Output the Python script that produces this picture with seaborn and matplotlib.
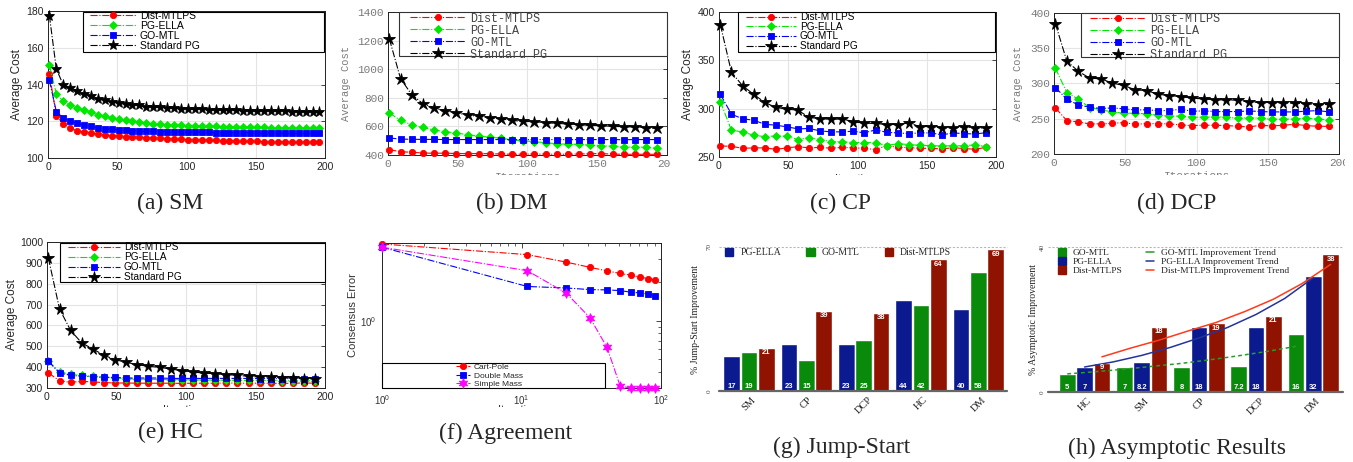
import numpy as np
import pandas as pd
import matplotlib
matplotlib.use('Agg')
import matplotlib.pyplot as plt
import seaborn as sns
from matplotlib.patches import Rectangle, Patch
from matplotlib.lines import Line2D
from matplotlib.ticker import NullFormatter

# ---------------- data ----------------
methods = ['Dist-MTLPS', 'PG-ELLA', 'GO-MTL', 'Standard PG']

sm_iter = [1, 6, 11, 16, 21, 26, 31, 36, 41, 46, 51, 56, 61, 66, 71, 76, 81, 86, 91, 96,
           101, 106, 111, 116, 121, 126, 131, 136, 141, 146, 151, 156, 161, 166, 171, 176, 181, 186, 191, 196]
sm_dist = [145.8, 123.0, 118.6, 116.5, 114.8, 114.1, 113.6, 112.9, 112.5, 112.1, 111.8, 111.6, 111.4, 111.2,
           111.0, 110.9, 110.7, 110.5, 110.3, 110.1, 110.0, 109.9, 109.8, 109.7, 109.6, 109.5, 109.4, 109.3,
           109.2, 109.1, 109.0, 108.9, 108.8, 108.8, 108.7, 108.7, 108.6, 108.6, 108.5, 108.5]
sm_ella = [150.5, 135.0, 130.8, 128.8, 127.1, 125.9, 125.0, 123.5, 122.6, 121.7, 121.0, 120.5, 119.9, 119.4,
           119.0, 118.6, 118.3, 118.1, 117.9, 117.7, 117.6, 117.5, 117.4, 117.3, 117.2, 117.1, 117.0, 116.9,
           116.8, 116.7, 116.6, 116.6, 116.5, 116.4, 116.4, 116.3, 116.2, 116.2, 116.1, 116.1]
sm_gomtl = [142.2, 125.3, 121.7, 119.9, 118.8, 117.9, 117.2, 116.5, 115.9, 115.6, 115.2, 115.0, 114.8, 114.7,
            114.5, 114.5, 114.3, 114.3, 114.1, 114.1, 114.0, 114.0, 113.9, 113.9, 113.8, 113.8, 113.8, 113.7,
            113.7, 113.7, 113.6, 113.6, 113.6, 113.6, 113.5, 113.5, 113.5, 113.5, 113.4, 113.4]
sm_std = [177.5, 148.5, 139.8, 138.0, 136.7, 135.0, 133.5, 132.2, 131.3, 130.4, 129.9, 129.3, 128.8, 128.6,
          128.0, 127.7, 127.5, 127.1, 127.0, 126.8, 126.6, 126.5, 126.4, 126.3, 126.2, 126.1, 126.0, 125.9,
          125.8, 125.7, 125.6, 125.6, 125.5, 125.4, 125.4, 125.3, 125.3, 125.2, 125.2, 125.1]

iter8 = [1, 9, 17, 25, 33, 41, 49, 57, 65, 73, 81, 89, 97, 105, 113, 121, 129, 137, 145, 153, 161, 169, 177, 185, 193]

dm_dist = [437, 423, 419, 414, 412, 413, 410, 410, 410, 409, 407, 405, 406, 407, 406, 405, 405, 407, 409, 410,
           406, 405, 405, 405, 405]
dm_ella = [694, 642, 612, 593, 575, 563, 554, 542, 533, 524, 519, 505, 500, 493, 486, 479, 475, 475, 468, 465,
           461, 456, 456, 454, 447]
dm_gomtl = [519, 511, 510, 509, 509, 508, 508, 508, 508, 508, 508, 507, 508, 508, 508, 508, 507, 508, 508, 508,
            508, 507, 508, 508, 508]
dm_std = [1211, 934, 822, 759, 729, 710, 694, 680, 670, 661, 652, 642, 635, 633, 626, 621, 617, 612, 607, 605,
          600, 598, 596, 591, 586]

cp_dist = [261.4, 261.1, 259.0, 259.4, 259.4, 258.0, 259.4, 260.7, 259.4, 260.0, 259.0, 260.0, 259.4, 259.0,
           257.6, 261.8, 260.0, 259.7, 259.0, 259.0, 258.3, 259.7, 258.7, 258.0, 260.0]
cp_ella = [307.2, 277.7, 276.0, 272.5, 271.1, 271.8, 271.5, 268.0, 270.1, 268.0, 265.9, 265.9, 264.9, 264.9,
           264.9, 261.8, 263.9, 262.8, 262.1, 261.8, 261.4, 261.8, 261.4, 262.8, 260.4]
cp_gomtl = [314.8, 294.3, 289.5, 288.1, 283.9, 282.9, 281.2, 279.1, 279.5, 277.0, 276.0, 276.0, 276.7, 274.9,
            278.1, 275.6, 274.9, 274.2, 274.9, 274.9, 272.9, 274.9, 274.2, 273.8, 275.2]
cp_std = [386.8, 337.6, 323.8, 314.8, 306.5, 301.3, 299.5, 298.5, 290.9, 289.8, 288.8, 289.5, 286.4, 285.0,
          284.7, 283.6, 283.6, 285.3, 281.5, 281.5, 280.5, 280.1, 281.5, 279.8, 280.1]

dcp_dist = [265.4, 247.4, 245.5, 242.7, 242.7, 243.6, 244.5, 242.2, 243.1, 243.1, 242.7, 241.2, 240.3, 240.8,
            240.8, 240.3, 239.3, 238.4, 240.8, 239.8, 240.8, 242.2, 240.3, 239.3, 239.3]
dcp_ella = [321.8, 287.2, 277.7, 265.9, 262.6, 259.7, 257.8, 257.8, 256.9, 255.0, 254.0, 253.6, 252.1, 252.1,
            253.1, 252.1, 250.7, 251.7, 250.7, 249.3, 249.3, 249.8, 250.7, 249.8, 248.3]
dcp_gomtl = [294.3, 277.7, 269.7, 266.4, 264.5, 265.4, 264.0, 262.6, 262.6, 261.6, 261.6, 263.5, 260.7, 261.1,
             260.2, 260.2, 260.2, 261.1, 260.2, 259.7, 259.7, 259.7, 260.7, 261.6, 259.7]
dcp_std = [384.8, 331.7, 317.5, 307.6, 306.6, 300.5, 297.2, 291.0, 290.0, 284.8, 282.9, 281.5, 279.1, 278.2,
           276.8, 276.8, 276.3, 273.9, 273.0, 273.0, 272.5, 272.0, 271.6, 269.2, 270.6]

hc_dist = [372, 335, 327, 332, 329, 326, 324, 324, 323, 323, 323, 323, 322, 323, 323, 323, 324, 323, 323, 323,
           323, 322, 323, 324, 323]
hc_ella = [428, 377, 366, 361, 356, 353, 348, 345, 343, 342, 341, 340, 340, 339, 338, 338, 337, 337, 336, 336,
           336, 335, 335, 335, 335]
hc_gomtl = [428, 372, 361, 356, 354, 351, 351, 348, 348, 348, 348, 346, 346, 346, 346, 346, 346, 346, 346, 345,
            345, 345, 345, 345, 345]
hc_std = [923, 679, 576, 516, 487, 457, 436, 423, 412, 404, 399, 391, 383, 377, 371, 369, 364, 361, 356, 353,
          353, 348, 347, 345, 343]

agr_iter = [1, 11, 21, 31, 41, 51, 61, 71, 81, 91]
cartpole = [3.93, 3.25, 2.84, 2.59, 2.43, 2.32, 2.25, 2.17, 2.12, 2.07]
doublemass = [3.71, 1.84, 1.79, 1.74, 1.73, 1.71, 1.66, 1.64, 1.61, 1.56]
simplemass = [3.71, 2.44, 1.63, 1.05, 0.62, 0.31, 0.30, 0.30, 0.30, 0.30]

jump_tasks = ['SM', 'CP', 'DCP', 'HC', 'DM']
jump_methods = ['PG-ELLA', 'GO-MTL', 'Dist-MTLPS']
jump_ella = [17, 23, 23, 44, 40]
jump_gomtl = [19, 15, 25, 42, 58]
jump_dist = [21, 39, 38, 64, 69]

asym_tasks = ['HC', 'SM', 'CP', 'DCP', 'DM']
asym_methods = ['GO-MTL', 'PG-ELLA', 'Dist-MTLPS']
asym_gomtl = [5, 7, 7, 7.2, 16]
asym_ella = [7, 8.2, 18, 18, 32]
asym_dist = [8.1, 18, 19, 21, 38]
asym_gomtl_lbl = ['5', '7', '8', '7.2', '16']
asym_ella_lbl = ['7', '8.2', '18', '18', '32']
asym_dist_lbl = ['9', '18', '19', '21', '38']

trend_steps = [0, 0.5, 1, 1.5, 2, 2.5, 3, 3.5, 4]
trend_gomtl = [5.0, 5.6, 6.3, 7.1, 7.9, 8.9, 10.0, 11.2, 12.6]
trend_ella = [6.9, 8.3, 10.1, 12.3, 14.9, 17.8, 21.4, 25.8, 31.5]
trend_dist = [9.7, 12.1, 14.3, 16.8, 19.2, 22.2, 25.6, 29.9, 35.2]

# ---------------- styling ----------------
sns.set_theme(style='white')
plt.rcParams['font.family'] = ['Liberation Sans', 'DejaVu Sans']
SERIF = ['Liberation Serif', 'DejaVu Serif']
MONO = ['Liberation Mono', 'DejaVu Sans Mono']

W, H = 1353, 462
fig = plt.figure(figsize=(W / 100, H / 100), dpi=100)
fig.patch.set_facecolor('white')


def px_axes(l, t, r, b):
    return fig.add_axes([l / W, 1 - b / H, (r - l) / W, (b - t) / H])


def fpos(x, y):
    return x / W, 1 - y / H


line_styles = {
    'Dist-MTLPS': dict(color='#ff0000', marker='o', ms=4.5),
    'PG-ELLA': dict(color='#00e800', marker='D', ms=4.0),
    'GO-MTL': dict(color='#0000ff', marker='s', ms=4.0),
    'Standard PG': dict(color='black', marker='*', ms=8.0),
}


def frame_box(ax, x0, y0, x1, y1, ec='black'):
    r = Rectangle(fpos(x0, y1), (x1 - x0) / W, (y1 - y0) / H, transform=fig.transFigure,
                  facecolor='white', edgecolor=ec, lw=0.8, zorder=5, clip_on=False)
    ax.add_artist(r)


def cost_panel(box, iters, curves, ylim, yticks, leg, ylab_x, mono=False, star=8.0):
    ax = px_axes(*box)
    for name, vals in zip(methods, curves):
        st = line_styles[name]
        ms = star if name == 'Standard PG' else st['ms']
        sns.lineplot(x=iters, y=vals, ax=ax, color=st['color'], marker=st['marker'], markersize=ms,
                     markeredgecolor=st['color'], markeredgewidth=0.6, linestyle='-.', linewidth=0.8,
                     label=name, legend=False, clip_on=False, zorder=3)
    ax.set_xlim(0, 200)
    ax.set_ylim(*ylim)
    ax.set_xticks([0, 50, 100, 150, 200])
    ax.set_yticks(yticks)
    ax.set_axisbelow(True)
    ax.grid(True, color='#e4e4e4', lw=0.8)
    tcol = '#7a7a7a' if mono else '#262626'
    fam = MONO if mono else ['Liberation Sans', 'DejaVu Sans']
    ax.tick_params(direction='in', length=3, width=0.6, top=True, right=True,
                   labelsize=8 if mono else 7.5, labelcolor=tcol, pad=3)
    for lab in ax.get_xticklabels() + ax.get_yticklabels():
        lab.set_fontfamily(fam)
    for sp in ax.spines.values():
        sp.set_color('#222222')
        sp.set_linewidth(0.7)
    ax.set_ylabel('Average Cost', fontsize=7.5 if mono else 8.5, color=tcol, family=fam, va='center')
    ax.yaxis.set_label_coords(ylab_x / W, 1 - (box[1] + box[3]) / 2 / H, transform=fig.transFigure)
    ax.set_xlabel('Iterations', fontsize=8, color=tcol, family=fam, va='top')
    ax.xaxis.set_label_coords((box[0] + box[2]) / 2 / W, 1 - (box[3] + 17) / H, transform=fig.transFigure)

    hx, hy, hl, ls, fs, bx = leg
    handles = ax.get_lines()[:4]
    lg = ax.legend(handles, methods, loc='upper left', bbox_to_anchor=fpos(hx, hy),
                   bbox_transform=fig.transFigure, frameon=False, borderpad=0, borderaxespad=0,
                   handlelength=hl, handletextpad=0.4, labelspacing=ls,
                   prop=dict(family=fam, size=fs))
    for t in lg.get_texts():
        t.set_color('#444444' if mono else 'black')
    lg.set_zorder(6)
    frame_box(ax, *bx, ec='#333333' if mono else 'black')
    return ax


cost_panel((48, 11, 325, 158), sm_iter, [sm_dist, sm_ella, sm_gomtl, sm_std], (100, 180),
           [100, 120, 140, 160, 180], (90, 11, 4.4, 0.0, 7.5, (83, 12, 324, 52)), 17)
cost_panel((388, 12, 667, 155), iter8, [dm_dist, dm_ella, dm_gomtl, dm_std], (400, 1400),
           [400, 600, 800, 1000, 1200, 1400], (410, 12.5, 4.7, 0.0, 8.5, (399, 12, 667, 56)), 346,
           mono=True, star=9)
cost_panel((719, 12, 996, 157), iter8, [cp_dist, cp_ella, cp_gomtl, cp_std], (250, 400),
           [250, 300, 350, 400], (746, 12, 5.0, -0.03, 7.2, (738, 12, 995, 52)), 688, star=8.5)
cost_panel((1054, 13, 1339, 154), iter8, [dcp_dist, dcp_ella, dcp_gomtl, dcp_std], (200, 400),
           [200, 250, 300, 350, 400], (1090, 13.5, 4.7, 0.0, 8.5, (1081, 13, 1339, 57)), 1018,
           mono=True, star=8.5)
cost_panel((47, 242, 325, 388), iter8, [hc_dist, hc_ella, hc_gomtl, hc_std], (300, 1000),
           [300, 400, 500, 600, 700, 800, 900, 1000], (68, 242, 5.2, 0.0, 7.2, (60, 243, 325, 282)), 12,
           star=8.5)

# ---------------- (f) agreement ----------------
axf = px_axes(382, 243, 661, 388)
agr = [('Cart-Pole', cartpole, '#ff0000', 'o', 4.5),
       ('Double Mass', doublemass, '#0000ff', 's', 4.0),
       ('Simple Mass', simplemass, '#ff00ff', (6, 1, 0), 7.0)]
for name, vals, col, mk, ms in agr:
    sns.lineplot(x=agr_iter, y=vals, ax=axf, color=col, marker=mk, markersize=ms, markeredgecolor=col,
                 markeredgewidth=0.6, linestyle='-.', linewidth=0.8, label=name, legend=False,
                 clip_on=False, zorder=3)
axf.set_xscale('log')
axf.set_yscale('log')
axf.set_xlim(1, 100)
axf.set_ylim(0.3, 4.0)
axf.yaxis.set_minor_formatter(NullFormatter())
axf.xaxis.set_minor_formatter(NullFormatter())
axf.tick_params(which='both', direction='in', top=True, right=True, labelsize=7, labelcolor='#333333', pad=4)
axf.tick_params(which='major', length=3.5, width=0.6)
axf.tick_params(which='minor', length=2, width=0.5)
for sp in axf.spines.values():
    sp.set_color('#222222')
    sp.set_linewidth(0.7)
axf.set_ylabel('Consensus Error', fontsize=8, family=['Liberation Sans Narrow', 'Liberation Sans'],
               color='#333333', va='center')
axf.yaxis.set_label_coords(353 / W, 1 - 315 / H, transform=fig.transFigure)
axf.set_xlabel('Iterations', fontsize=8, color='#333333', va='top')
axf.xaxis.set_label_coords(521 / W, 1 - 405 / H, transform=fig.transFigure)
lgf = axf.legend(axf.get_lines()[:3], [a[0] for a in agr], loc='upper left',
                 bbox_to_anchor=fpos(456, 363), bbox_transform=fig.transFigure, frameon=False,
                 borderpad=0, borderaxespad=0, handlelength=1.7, handletextpad=0.4, labelspacing=0.1,
                 prop=dict(size=6))
lgf.set_zorder(6)
frame_box(axf, 382, 363, 605, 388)

# ---------------- bar panels ----------------
bar_colors = {'PG-ELLA': '#0b1a8f', 'GO-MTL': '#0a8a0a', 'Dist-MTLPS': '#8f1300'}
slot = 0.91 / 3


def bar_panel(box, tasks, meths, vals, labels, ymax, xlim, ylab, ylab_x, ytick_dx):
    ax = px_axes(*box)
    df = pd.DataFrame({'task': [t for _ in meths for t in tasks],
                       'method': [m for m in meths for _ in tasks],
                       'value': [v for vs in vals for v in vs]})
    sns.barplot(data=df, x='task', y='value', hue='method', order=tasks, hue_order=meths,
                palette=bar_colors, width=0.91, gap=0.04, saturation=1, legend=False, ax=ax)
    ax.set_xlim(*xlim)
    ax.set_ylim(0, ymax)
    sns.despine(ax=ax, left=True, bottom=True)
    ax.axhline(0, color='#666666', lw=1.6, zorder=4, clip_on=False)
    ax.axhline(ymax, color='#b8b8b8', lw=0.8, ls=(0, (2, 1.5)), zorder=1, clip_on=False)
    ax.set_yticks([0, ymax])
    ax.set_yticklabels([str(0), str(ymax)], rotation=90, va='center', fontsize=5, color='#444444',
                       family=SERIF)
    ax.tick_params(axis='y', length=0, pad=ytick_dx)
    ax.tick_params(axis='x', length=0, pad=3)
    ax.set_xticks(range(len(tasks)))
    ax.set_xticklabels(tasks, rotation=45, ha='center', fontsize=7.5, family=SERIF, color='#222222')
    ax.set_xlabel('')
    ax.set_ylabel(ylab, fontsize=7, family=SERIF, color='#222222', va='center')
    ax.yaxis.set_label_coords(ylab_x / W, 1 - (box[1] + box[3]) / 2 / H, transform=fig.transFigure)
    # value labels: first two series at bar foot, last series under bar top
    for j, (vs, lbs) in enumerate(zip(vals, labels)):
        for i, (v, lb) in enumerate(zip(vs, lbs)):
            x = i + (j - 1) * slot
            if j < 2:
                ax.annotate(lb, (x, 0), xytext=(0, 3.4), textcoords='offset points', ha='center',
                            va='center', fontsize=5.5, fontweight='bold', color='white', zorder=5)
            else:
                ax.annotate(lb, (x, v), xytext=(0, -3.6), textcoords='offset points', ha='center',
                            va='center', fontsize=5.5, fontweight='bold', color='white', zorder=5)
    return ax


axg = bar_panel((719, 247, 1007, 391), jump_tasks, jump_methods, [jump_ella, jump_gomtl, jump_dist],
                [[str(v) for v in jump_ella], [str(v) for v in jump_gomtl], [str(v) for v in jump_dist]],
                70, (-0.524, 4.50), '% Jump-Start Improvement', 696, 5)
lgg = axg.legend([Patch(color=bar_colors[m]) for m in jump_methods], jump_methods, ncol=3,
                 loc='upper left', bbox_to_anchor=fpos(725, 248), bbox_transform=fig.transFigure,
                 frameon=False, borderpad=0, borderaxespad=0, handlelength=0.85, handleheight=0.85,
                 handletextpad=0.72, columnspacing=2.6, prop=dict(family=SERIF, size=7))

axh = bar_panel((1048, 247, 1343, 392), asym_tasks, asym_methods, [asym_gomtl, asym_ella, asym_dist],
                [asym_gomtl_lbl, asym_ella_lbl, asym_dist_lbl], 40, (-0.64, 4.52),
                '% Asymptotic Improvement', 1033, 2)
trend_cols = {'GO-MTL': '#2a9a2a', 'PG-ELLA': '#23349a', 'Dist-MTLPS': '#ff3a1a'}
for j, (m, tv) in enumerate(zip(asym_methods, [trend_gomtl, trend_ella, trend_dist])):
    xs = [s + (j - 1) * slot for s in trend_steps]
    sns.lineplot(x=xs, y=tv, ax=axh, color=trend_cols[m], lw=1.1,
                 linestyle=(0, (2.5, 2)) if m == 'GO-MTL' else '-', legend=False, zorder=4)
hh = [Patch(color=bar_colors[m]) for m in asym_methods] + \
     [Line2D([], [], color=trend_cols[m], lw=1.1) for m in asym_methods]
hl = asym_methods + [m + ' Improvement Trend' for m in asym_methods]
axh.legend(hh, hl, ncol=2, loc='upper left', bbox_to_anchor=fpos(1058, 248.5), bbox_transform=fig.transFigure,
           frameon=False, borderpad=0, borderaxespad=0, handlelength=0.8, handleheight=0.8,
           handletextpad=0.8, columnspacing=2.45, labelspacing=0.0, prop=dict(family=SERIF, size=6.8))

# ---------------- crops of the original panels (clipped labels) ----------------
for (x0, y0, x1, y1) in [(0, 175, W, 189), (0, 407, 676, 420), (671, 148, 690, 175), (1345, 148, W, 175)]:
    fig.add_artist(Rectangle(fpos(x0, y1), (x1 - x0) / W, (y1 - y0) / H, transform=fig.transFigure,
                             facecolor='white', edgecolor='none', zorder=10))

# ---------------- captions ----------------
captions = [('(a) SM', 170, 203), ('(b) DM', 512, 203), ('(c) CP', 840, 203), ('(d) DCP', 1177, 203),
            ('(e) HC', 170, 432), ('(f) Agreement', 506, 433), ('(g) Jump-Start', 842, 447),
            ('(h) Asymptotic Results', 1177, 448)]
for txt, x, y in captions:
    fig.text(*fpos(x, y), txt, ha='center', va='center', family=SERIF, fontsize=17, zorder=11)

fig.savefig('out.png', dpi=100, facecolor='white')
